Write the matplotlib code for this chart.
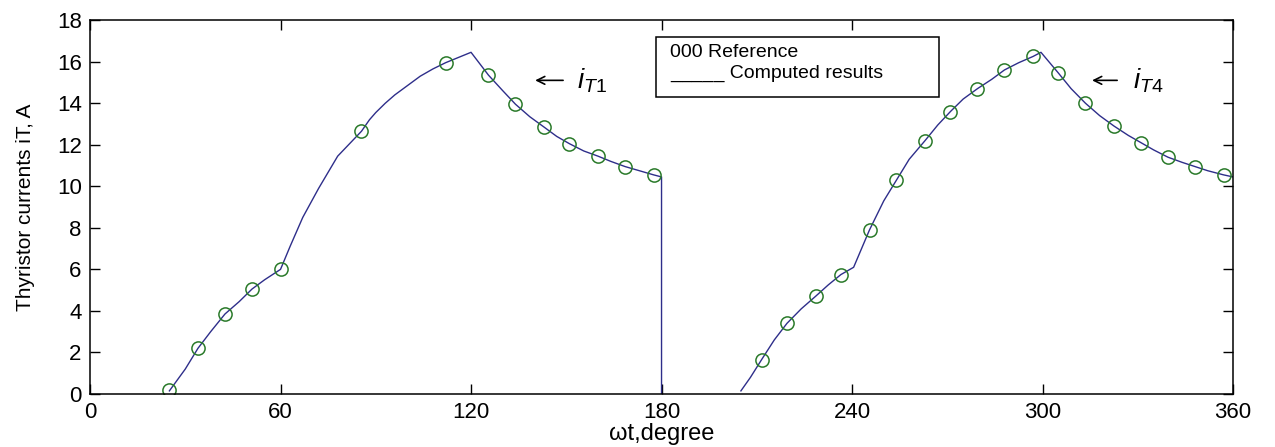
import matplotlib
matplotlib.use("Agg")
import matplotlib.pyplot as plt
from matplotlib.patches import Rectangle

plt.rcParams["font.family"] = ["Liberation Sans", "DejaVu Sans"]
plt.rcParams["mathtext.fontset"] = "custom"
plt.rcParams["mathtext.it"] = "Liberation Sans:italic"
plt.rcParams["mathtext.rm"] = "Liberation Sans"

# reference points (circles)
ref1_deg = [25, 34, 42.5, 51, 60, 85.5, 112, 125.5, 134, 143, 151, 160, 168.5, 177.5]
ref1_i = [0.2, 2.2, 3.85, 5.05, 6.0, 12.65, 15.95, 15.35, 13.95, 12.85, 12.05, 11.45, 10.95, 10.55]

ref2_deg = [211.5, 219.5, 228.5, 236.5, 245.5, 254, 263, 271, 279.5, 288, 297,
            305, 313.5, 322.5, 331, 339.5, 348, 357]
ref2_i = [1.65, 3.4, 4.7, 5.75, 7.9, 10.3, 12.2, 13.6, 14.7, 15.6, 16.25,
          15.45, 14.0, 12.9, 12.1, 11.4, 10.95, 10.55]

# computed results (solid line)
comp1_deg = [25, 30, 34, 38, 42.5, 47, 51, 55, 60, 63, 67, 72, 78, 85.5, 88, 90, 93, 96,
             100, 104, 108, 112, 116, 120, 125.5, 130, 134, 138.5, 143, 147, 151, 155.5,
             160, 164, 168.5, 173, 177.5, 180, 180]
comp1_i = [0.15, 1.2, 2.2, 3.0, 3.85, 4.45, 5.05, 5.5, 6.0, 7.1, 8.5, 9.9, 11.45, 12.65,
           13.2, 13.55, 14.0, 14.4, 14.85, 15.3, 15.65, 15.95, 16.2, 16.45, 15.35, 14.6,
           13.95, 13.35, 12.85, 12.4, 12.05, 11.7, 11.45, 11.2, 10.95, 10.75, 10.55,
           10.45, 0]

comp2_deg = [205, 208, 211.5, 215.5, 219.5, 224, 228.5, 232.5, 236.5, 240.5, 243, 245.5,
             250, 254, 258, 263, 267, 271, 275, 279.5, 284, 288, 292.5, 297, 299.5, 305,
             309, 313.5, 318, 322.5, 327, 331, 335, 339.5, 344, 348, 352, 357, 360]
comp2_i = [0.15, 0.8, 1.65, 2.6, 3.4, 4.1, 4.7, 5.25, 5.75, 6.1, 7.0, 7.9, 9.3, 10.3,
           11.3, 12.2, 12.95, 13.6, 14.2, 14.7, 15.15, 15.6, 15.95, 16.25, 16.45, 15.45,
           14.7, 14.0, 13.4, 12.9, 12.45, 12.1, 11.75, 11.4, 11.15, 10.95, 10.75, 10.55, 10.45]

x_ticks = [0, 60, 120, 180, 240, 300, 360]
y_ticks = list(range(0, 19, 2))

line_color = "#2e2e8a"
marker_color = "#2a7a2a"

fig = plt.figure(figsize=(12.75, 4.47), dpi=100)
ax = fig.add_axes([0.0706, 0.1186, 0.8965, 0.8364])

ax.plot(comp1_deg, comp1_i, color=line_color, lw=1.0)
ax.plot(comp2_deg, comp2_i, color=line_color, lw=1.0)
ax.plot(ref1_deg, ref1_i, "o", mfc="none", mec=marker_color, ms=9.5, mew=1.1)
ax.plot(ref2_deg, ref2_i, "o", mfc="none", mec=marker_color, ms=9.5, mew=1.1)

ax.set_xlim(0, 360)
ax.set_ylim(0, 18)
ax.set_xticks(x_ticks)
ax.set_yticks(y_ticks)
ax.tick_params(direction="in", length=7, width=1, top=True, right=True,
               labelsize=16, pad=6)
for s in ax.spines.values():
    s.set_linewidth(1.1)

ax.set_xlabel("ωt,degree", fontsize=17, labelpad=0)
ax.set_ylabel("Thyristor currents iT, A", fontsize=15, labelpad=16)

# annotations
arrow = dict(arrowstyle="->", lw=1.2, color="black", mutation_scale=14,
             shrinkA=0, shrinkB=0)
ax.annotate("", xy=(140.2, 15.1), xytext=(149.0, 15.1), arrowprops=arrow)
ax.text(153.4, 15.1, r"$i_{\mathit{T1}}$", fontsize=20, ha="left", va="center")
ax.annotate("", xy=(315.6, 15.1), xytext=(323.5, 15.1), arrowprops=arrow)
ax.text(328.5, 15.1, r"$i_{\mathit{T4}}$", fontsize=20, ha="left", va="center")

# legend box
ax.add_patch(Rectangle((0.4952, 0.794), 0.2476, 0.1605, transform=ax.transAxes,
                       fc="white", ec="black", lw=1.1, zorder=5))
ax.text(0.5074, 0.914, "000 Reference", transform=ax.transAxes, fontsize=14,
        ha="left", va="center", zorder=6)
ax.text(0.5074, 0.858, "_____ Computed results", transform=ax.transAxes, fontsize=14,
        ha="left", va="center", zorder=6)

fig.savefig("out.png", dpi=100)
